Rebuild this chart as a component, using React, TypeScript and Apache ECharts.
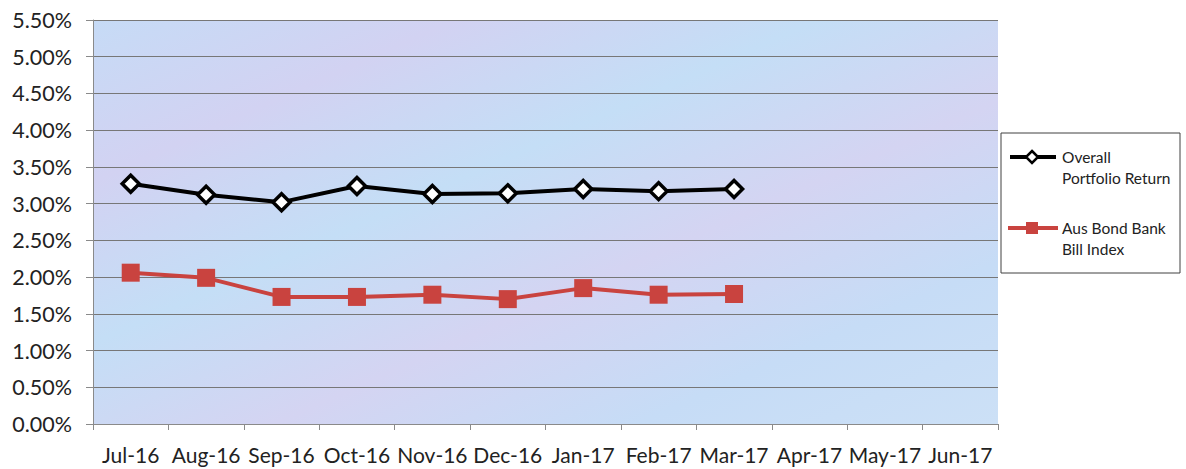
import React, { useEffect, useRef } from "react";
import * as echarts from "echarts";

const categories = ["Jul-16", "Aug-16", "Sep-16", "Oct-16", "Nov-16", "Dec-16", "Jan-17", "Feb-17", "Mar-17", "Apr-17", "May-17", "Jun-17"];
const portfolioReturn = [3.27, 3.12, 3.02, 3.24, 3.13, 3.14, 3.2, 3.17, 3.2, null, null, null];
const bankBillIndex = [2.06, 1.99, 1.73, 1.73, 1.76, 1.7, 1.85, 1.76, 1.77, null, null, null];
const seriesNames = ["Overall\nPortfolio Return", "Aus Bond Bank\nBill Index"];

const FONT = "Lato, 'Open Sans', sans-serif";

export default function App() {
  const ref = useRef<HTMLDivElement>(null);
  useEffect(() => {
    if (!ref.current) return;
    const chart = echarts.init(ref.current, undefined, { renderer: "svg" });
    chart.setOption({
      animation: false,
      backgroundColor: "#ffffff",
      grid: {
        show: true,
        left: 93,
        top: 20,
        width: 905,
        height: 404,
        borderWidth: 0,
        backgroundColor: new echarts.graphic.LinearGradient(0, 0, 1, 1, [
          { offset: 0, color: "#c6dbf6" },
          { offset: 0.2, color: "#d2d2f2" },
          { offset: 0.4, color: "#c4def6" },
          { offset: 0.6, color: "#d4d4f2" },
          { offset: 0.8, color: "#c6dcf6" },
          { offset: 1, color: "#cce0f6" },
        ]),
      },
      xAxis: {
        type: "category",
        data: categories,
        boundaryGap: true,
        axisLine: { show: true, lineStyle: { color: "#8a8a8a", width: 1 } },
        axisTick: { show: true, length: 6, lineStyle: { color: "#8a8a8a" } },
        axisLabel: { color: "#222", fontSize: 21, fontFamily: FONT, margin: 20, interval: 0 },
        splitLine: { show: false },
      },
      yAxis: {
        type: "value",
        min: 0,
        max: 5.5,
        interval: 0.5,
        axisLine: { show: true, lineStyle: { color: "#8a8a8a", width: 1 } },
        axisTick: { show: true, length: 7, lineStyle: { color: "#8a8a8a" } },
        axisLabel: {
          color: "#222",
          fontSize: 21.5,
          fontFamily: FONT,
          margin: 21,
          formatter: (v: number) => v.toFixed(2) + "%",
        },
        splitLine: { show: true, lineStyle: { color: "#777777", width: 1 } },
      },
      series: [
        {
          name: seriesNames[0],
          type: "line",
          data: portfolioReturn,
          lineStyle: { color: "#000000", width: 4 },
          symbol: "diamond",
          symbolSize: 17,
          itemStyle: { color: "#ffffff", borderColor: "#000000", borderWidth: 3.5 },
          z: 3,
        },
        {
          name: seriesNames[1],
          type: "line",
          data: bankBillIndex,
          lineStyle: { color: "#c9433f", width: 4 },
          symbol: "rect",
          symbolSize: 18,
          itemStyle: { color: "#c9433f", borderColor: "#c9433f", borderWidth: 0 },
          z: 2,
        },
      ],
      graphic: [
        {
          type: "rect",
          shape: { x: 1001, y: 133, width: 179, height: 140 },
          style: { fill: "#ffffff", stroke: "#404040", lineWidth: 1 },
          z: 10,
        },
        {
          type: "line",
          shape: { x1: 1010, y1: 157, x2: 1056, y2: 157 },
          style: { stroke: "#000000", lineWidth: 4 },
          z: 11,
        },
        {
          type: "polygon",
          shape: { points: [[1032, 151], [1038, 157], [1032, 163], [1026, 157]] },
          style: { fill: "#ffffff", stroke: "#000000", lineWidth: 2.5 },
          z: 12,
        },
        {
          type: "text",
          x: 1062,
          y: 146,
          style: { text: seriesNames[0], fill: "#222", fontSize: 15.5, fontFamily: FONT, lineHeight: 21 },
          z: 12,
        },
        {
          type: "line",
          shape: { x1: 1008, y1: 228, x2: 1058, y2: 228 },
          style: { stroke: "#c9433f", lineWidth: 4 },
          z: 11,
        },
        {
          type: "rect",
          shape: { x: 1026, y: 222, width: 12, height: 12 },
          style: { fill: "#c9433f" },
          z: 12,
        },
        {
          type: "text",
          x: 1062,
          y: 217,
          style: { text: seriesNames[1], fill: "#222", fontSize: 15.5, fontFamily: FONT, lineHeight: 21 },
          z: 12,
        },
      ],
    });
    return () => chart.dispose();
  }, []);
  return <div ref={ref} style={{ position: "fixed", left: 0, top: 0, width: 1186, height: 469 }} />;
}
